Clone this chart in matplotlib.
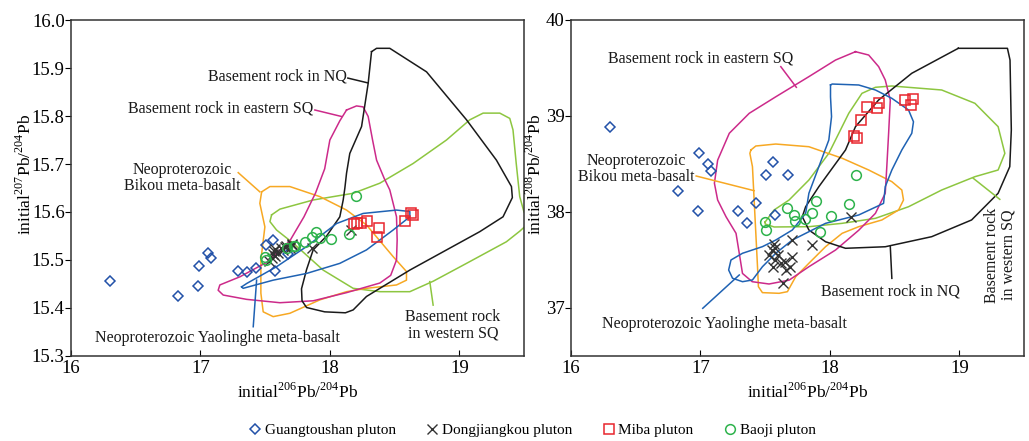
import numpy as np
import matplotlib
matplotlib.use("Agg")
import matplotlib.pyplot as plt

plt.rcParams['font.family'] = ['Liberation Serif', 'DejaVu Serif']
plt.rcParams['mathtext.fontset'] = 'custom'
plt.rcParams['mathtext.rm'] = 'Liberation Serif'

# ---- samples: initial 206Pb/204Pb, 207Pb/204Pb, 208Pb/204Pb ----
gts_206 = [16.30, 16.83, 16.98, 16.99, 17.06, 17.08, 17.29, 17.36, 17.43, 17.51, 17.56, 17.58, 17.68]
gts_207 = [15.457, 15.425, 15.446, 15.488, 15.515, 15.505, 15.478, 15.474, 15.484, 15.531, 15.542, 15.478, 15.512]
gts_208 = [38.89, 38.22, 38.01, 38.61, 38.50, 38.43, 38.01, 37.885, 38.09, 38.39, 38.52, 37.97, 38.39]

djk_206 = [17.53, 17.55, 17.56, 17.57, 17.58, 17.58, 17.60, 17.62, 17.64, 17.65, 17.66, 17.69, 17.71, 17.71, 17.86, 18.16]
djk_207 = [15.497, 15.505, 15.512, 15.518, 15.508, 15.522, 15.515, 15.525, 15.520, 15.528, 15.530, 15.525, 15.533, 15.531, 15.524, 15.563]
djk_208 = [37.55, 37.60, 37.43, 37.67, 37.50, 37.62, 37.55, 37.47, 37.26, 37.48, 37.40, 37.43, 37.71, 37.53, 37.66, 37.95]

mb_206 = [18.185, 18.21, 18.24, 18.29, 18.365, 18.38, 18.58, 18.63, 18.64]
mb_207 = [15.575, 15.578, 15.578, 15.582, 15.547, 15.567, 15.581, 15.597, 15.594]
mb_208 = [38.795, 38.77, 38.955, 39.09, 39.08, 39.14, 39.17, 39.11, 39.18]

bj_206 = [17.50, 17.51, 17.67, 17.72, 17.73, 17.81, 17.86, 17.89, 17.92, 18.01, 18.15, 18.20]
bj_207 = [15.507, 15.501, 15.526, 15.529, 15.529, 15.538, 15.547, 15.559, 15.545, 15.544, 15.554, 15.633]
bj_208 = [37.90, 37.81, 38.04, 37.97, 37.91, 37.93, 37.99, 38.11, 37.79, 37.96, 38.08, 38.39]

# ---- reference fields, 207Pb/204Pb diagram ----
nq_207 = [(18.322, 15.934), (18.361, 15.941), (18.463, 15.941), (18.747, 15.892), (19.056, 15.792),
          (19.287, 15.708), (19.403, 15.653), (19.41, 15.630), (19.338, 15.590), (19.158, 15.559),
          (18.618, 15.479), (18.283, 15.424), (18.18, 15.396), (18.12, 15.390), (17.96, 15.392),
          (17.82, 15.401), (17.785, 15.415), (17.781, 15.44), (17.82, 15.48), (17.871, 15.521),
          (17.975, 15.55), (18.077, 15.59), (18.103, 15.625), (18.116, 15.65), (18.129, 15.681),
          (18.154, 15.722), (18.245, 15.778), (18.296, 15.868), (18.322, 15.934)]
esq_207 = [(18.129, 15.8125), (18.206, 15.821), (18.257, 15.819), (18.296, 15.799), (18.33, 15.75),
           (18.361, 15.708), (18.42, 15.67), (18.463, 15.646), (18.515, 15.59), (18.52, 15.542),
           (18.515, 15.50), (18.47, 15.468), (18.386, 15.452), (18.129, 15.432), (17.871, 15.415),
           (17.614, 15.411), (17.357, 15.418), (17.176, 15.427), (17.137, 15.437), (17.15, 15.448),
           (17.305, 15.465), (17.511, 15.495), (17.691, 15.54), (17.80, 15.59), (17.89, 15.64),
           (17.96, 15.69), (18.0, 15.75), (18.077, 15.79), (18.129, 15.8125)]
wsq_207 = [(17.55, 15.594), (17.614, 15.606), (17.871, 15.625), (18.18, 15.639), (18.386, 15.66),
           (18.643, 15.701), (18.901, 15.75), (19.081, 15.792), (19.184, 15.806), (19.313, 15.806),
           (19.39, 15.795), (19.415, 15.771), (19.44, 15.701), (19.467, 15.632), (19.50, 15.60),
           (19.55, 15.58), (19.467, 15.560), (19.364, 15.538), (19.056, 15.493), (18.80, 15.456),
           (18.618, 15.434), (18.386, 15.434), (18.18, 15.441), (17.948, 15.479), (17.717, 15.535),
           (17.588, 15.5625), (17.537, 15.58), (17.55, 15.594)]
bik_207 = [(17.473, 15.642), (17.537, 15.653), (17.691, 15.653), (17.923, 15.632), (18.129, 15.604),
           (18.283, 15.573), (18.489, 15.507), (18.592, 15.476), (18.592, 15.458), (18.515, 15.448),
           (18.283, 15.441), (18.129, 15.434), (17.923, 15.417), (17.691, 15.389), (17.562, 15.382),
           (17.485, 15.392), (17.467, 15.431), (17.467, 15.50), (17.498, 15.569), (17.459, 15.618),
           (17.473, 15.642)]
ylh_207 = [(17.318, 15.444), (17.357, 15.451), (17.588, 15.486), (17.82, 15.528), (18.052, 15.576),
           (18.257, 15.597), (18.515, 15.604), (18.618, 15.601), (18.618, 15.59), (18.489, 15.5625),
           (18.283, 15.521), (18.077, 15.493), (17.82, 15.472), (17.562, 15.458), (17.33, 15.441),
           (17.318, 15.444)]

# ---- reference fields, 208Pb/204Pb diagram ----
nq_208 = [(18.992, 39.705), (19.372, 39.705), (19.392, 39.583), (19.402, 38.854), (19.39, 38.472),
          (19.30, 38.195), (19.095, 37.917), (18.787, 37.743), (18.428, 37.638), (18.121, 37.622),
          (17.967, 37.69), (17.838, 37.8125), (17.787, 37.951), (17.813, 38.055), (17.915, 38.264),
          (18.121, 38.646), (18.198, 38.889), (18.377, 39.167), (18.633, 39.445), (18.992, 39.705)]
esq_208 = [(18.198, 39.67), (18.30, 39.635), (18.377, 39.514), (18.428, 39.375), (18.467, 39.167),
           (18.454, 38.82), (18.44, 38.472), (18.428, 38.195), (18.352, 37.986), (18.223, 37.81),
           (18.044, 37.604), (17.838, 37.43), (17.685, 37.29), (17.53, 37.25), (17.40, 37.274),
           (17.325, 37.36), (17.30, 37.57), (17.275, 37.778), (17.198, 37.95), (17.133, 38.125),
           (17.108, 38.30), (17.133, 38.54), (17.223, 38.82), (17.377, 39.028), (17.582, 39.20),
           (17.838, 39.41), (18.044, 39.583), (18.198, 39.67)]
wsq_208 = [(17.50, 37.896), (17.569, 38.021), (17.685, 38.125), (17.838, 38.333), (17.992, 38.611),
           (18.146, 39.028), (18.248, 39.236), (18.352, 39.299), (18.479, 39.3125), (18.864, 39.271),
           (19.121, 39.132), (19.30, 38.889), (19.352, 38.611), (19.30, 38.4375), (19.121, 38.368),
           (18.864, 38.229), (18.608, 38.055), (18.352, 37.934), (18.095, 37.882), (17.838, 37.847),
           (17.569, 37.844), (17.50, 37.875), (17.50, 37.896)]
bik_208 = [(17.39, 38.646), (17.428, 38.6875), (17.582, 38.708), (17.838, 38.68), (18.095, 38.56),
           (18.30, 38.4375), (18.479, 38.316), (18.556, 38.229), (18.569, 38.125), (18.531, 38.021),
           (18.402, 37.917), (18.223, 37.847), (18.095, 37.778), (17.967, 37.639), (17.838, 37.466),
           (17.736, 37.326), (17.672, 37.17), (17.608, 37.153), (17.479, 37.16), (17.448, 37.222),
           (17.441, 37.43), (17.428, 37.778), (17.415, 38.125), (17.402, 38.472), (17.382, 38.611),
           (17.39, 38.646)]
ylh_208 = [(18.005, 39.323), (18.018, 39.333), (18.223, 39.323), (18.352, 39.271), (18.479, 39.184),
           (18.608, 39.0625), (18.646, 38.94), (18.633, 38.82), (18.556, 38.646), (18.479, 38.4375),
           (18.428, 38.264), (18.415, 38.09), (18.223, 37.969), (17.967, 37.882), (17.71, 37.708),
           (17.582, 37.57), (17.479, 37.43), (17.402, 37.292), (17.325, 37.274), (17.248, 37.31),
           (17.218, 37.396), (17.236, 37.50), (17.325, 37.57), (17.479, 37.639), (17.582, 37.708),
           (17.71, 37.8125), (17.813, 37.986), (17.838, 38.195), (17.915, 38.472), (17.992, 38.75),
           (18.013, 38.993), (18.005, 39.2), (18.005, 39.323)]

# ---- field labels: text, label centre, leader line ----
labels_207 = [
    ("Basement rock in NQ", (17.598, 15.883), [(18.139, 15.879), (18.293, 15.869)], 'k', 0),
    ("Basement rock in eastern SQ", (17.158, 15.815), [(17.884, 15.8125), (18.09, 15.799)], 'm', 0),
    ("Neoproterozoic\nBikou meta-basalt", (16.857, 15.671), [(17.292, 15.682), (17.459, 15.642)], 'o', 0),
    ("Neoproterozoic Yaolinghe meta-basalt", (17.135, 15.3375), [(17.408, 15.361), (17.434, 15.458)], 'b', 0),
    ("Basement rock\nin western SQ", (18.95, 15.365), [(18.772, 15.455), (18.798, 15.406)], 'g', 0),
]
labels_208 = [
    ("Basement rock in eastern SQ", (17.005, 39.594), [(17.621, 39.514), (17.741, 39.299)], 'm', 0),
    ("Neoproterozoic\nBikou meta-basalt", (16.505, 38.448), [(16.967, 38.375), (17.415, 38.222)], 'o', 0),
    ("Neoproterozoic Yaolinghe meta-basalt", (17.185, 36.833), [(17.018, 36.997), (17.30, 37.344)], 'b', 0),
    ("Basement rock in NQ", (18.467, 37.177), [(18.479, 37.309), (18.467, 37.639)], 'k', 0),
    ("Basement rock\nin western SQ", (19.315, 37.552), [(19.108, 38.351), (19.313, 38.132)], 'g', 90),
]

field_colors = {'k': '#1a1a1a', 'm': '#cc2a8a', 'g': '#8dc640', 'o': '#f7a823', 'b': '#1f62b3'}


def draw_fields(ax, fields):
    for pts, c in fields:
        pts = np.array(pts)
        ax.plot(pts[:, 0], pts[:, 1], color=field_colors[c], lw=1.1, solid_joinstyle='round')


def draw_samples(ax, y_gts, y_djk, y_mb, y_bj):
    h = []
    h += ax.plot(gts_206, y_gts, ls='none', marker='D', ms=5.4, mfc='none', mec='#2251a8', mew=1.1,
                 label='Guangtoushan pluton')
    h += ax.plot(djk_206, y_djk, ls='none', marker='x', ms=7, mec='#333333', mew=1.0,
                 label='Dongjiangkou pluton')
    h += ax.plot(mb_206, y_mb, ls='none', marker='s', ms=7, mfc='none', mec='#e8262d', mew=1.1,
                 label='Miba pluton')
    h += ax.plot(bj_206, y_bj, ls='none', marker='o', ms=7, mfc='none', mec='#2eb34c', mew=1.1,
                 label='Baoji pluton')
    return h


def draw_labels(ax, labels):
    for txt, pos, leader, c, rot in labels:
        ax.text(pos[0], pos[1], txt, ha='center', va='center', fontsize=11.5, rotation=rot,
                linespacing=1.05, color='#1a1a1a')
        ld = np.array(leader)
        ax.plot(ld[:, 0], ld[:, 1], color=field_colors[c], lw=1.1)


def style_axes(ax):
    for s in ax.spines.values():
        s.set_linewidth(1.1)
        s.set_color('#333333')
    ax.tick_params(axis='x', direction='in', length=4, labelsize=13.5, pad=3)
    ax.tick_params(axis='y', direction='out', length=4, labelsize=13.5, pad=0.5)
    ax.set_xlim(16, 19.5)
    ax.set_xticks([16, 17, 18, 19])


fig = plt.figure(figsize=(10.29, 4.41), dpi=100)
ax1 = fig.add_axes([71 / 1029, 1 - 356 / 441, 453 / 1029, 336 / 441])
ax2 = fig.add_axes([571 / 1029, 1 - 356 / 441, 453 / 1029, 336 / 441])

# left: 207Pb/204Pb
draw_fields(ax1, [(wsq_207, 'g'), (bik_207, 'o'), (esq_207, 'm'), (nq_207, 'k'), (ylh_207, 'b')])
handles = draw_samples(ax1, gts_207, djk_207, mb_207, bj_207)
draw_labels(ax1, labels_207)
style_axes(ax1)
ax1.set_ylim(15.3, 16.0)
ax1.set_yticks(np.arange(15.3, 16.01, 0.1))
ax1.set_yticklabels(['%.1f' % v for v in np.arange(15.3, 16.01, 0.1)])
ax1.set_xlabel('initial$^{206}$Pb/$^{204}$Pb', fontsize=12.5)
ax1.set_ylabel('initial$^{207}$Pb/$^{204}$Pb', fontsize=12.5)
ax1.xaxis.set_label_coords(0.50, -0.078)
ax1.yaxis.set_label_coords(-0.08, 0.54)

# right: 208Pb/204Pb
draw_fields(ax2, [(wsq_208, 'g'), (bik_208, 'o'), (esq_208, 'm'), (nq_208, 'k'), (ylh_208, 'b')])
draw_samples(ax2, gts_208, djk_208, mb_208, bj_208)
draw_labels(ax2, labels_208)
style_axes(ax2)
ax2.set_ylim(36.5, 40)
ax2.set_yticks([37, 38, 39, 40])
ax2.set_xlabel('initial$^{206}$Pb/$^{204}$Pb', fontsize=12.5)
ax2.set_ylabel('initial$^{208}$Pb/$^{204}$Pb', fontsize=12.5)
ax2.xaxis.set_label_coords(0.523, -0.078)
ax2.yaxis.set_label_coords(-0.058, 0.54)

fig.legend(handles=handles, loc='center', bbox_to_anchor=(0.517, 0.024), ncol=4, frameon=False,
           fontsize=11, handlelength=0.9, handletextpad=0.2, columnspacing=1.9)

fig.savefig('out.png', dpi=100)
